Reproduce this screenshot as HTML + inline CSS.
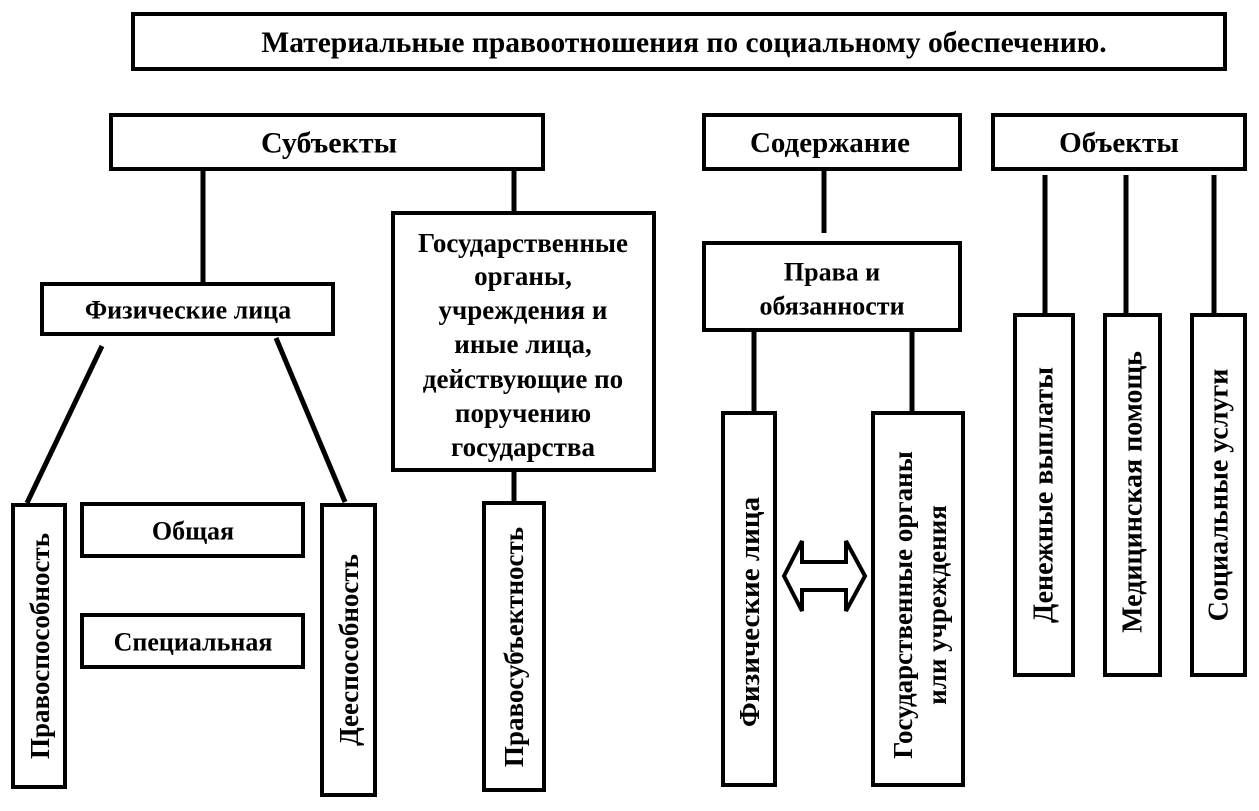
<!DOCTYPE html>
<html><head><meta charset="utf-8"><style>
html,body{margin:0;padding:0;background:#fff;}
svg{display:block}
text{font-family:"Liberation Serif","DejaVu Serif",serif;font-weight:bold;fill:#000;text-anchor:middle;dominant-baseline:central}
</style></head><body>
<svg width="1259" height="811" viewBox="0 0 1259 811" xmlns="http://www.w3.org/2000/svg">
<g fill="#fff" stroke="#000" stroke-width="4">
<rect x="133" y="14" width="1092" height="55"/>
<rect x="111" y="115" width="432" height="54"/>
<rect x="704" y="115" width="256" height="54"/>
<rect x="993" y="115" width="252" height="54"/>
<rect x="42" y="284" width="291" height="50"/>
<rect x="393" y="213" width="261" height="257"/>
<rect x="484" y="503" width="60" height="287"/>
<rect x="13" y="505" width="52" height="282"/>
<rect x="82" y="504" width="221" height="52"/>
<rect x="82" y="615" width="221" height="52"/>
<rect x="322" y="505" width="53" height="290"/>
<rect x="704" y="243" width="256" height="87"/>
<rect x="723" y="413" width="52" height="372"/>
<rect x="873" y="413" width="90" height="372"/>
<rect x="1015" y="315" width="58" height="360"/>
<rect x="1105" y="315" width="55" height="360"/>
<rect x="1192" y="315" width="53" height="360"/>
</g>
<g stroke="#000" stroke-width="5" fill="none">
<line x1="203" y1="169" x2="203" y2="284"/>
<line x1="514" y1="169" x2="514" y2="213"/>
<line x1="514" y1="470" x2="514" y2="503"/>
<line x1="102" y1="346" x2="27" y2="503"/>
<line x1="276" y1="338" x2="345" y2="502"/>
<line x1="824" y1="169" x2="824" y2="233"/>
<line x1="754" y1="330" x2="754" y2="413"/>
<line x1="912" y1="330" x2="912" y2="413"/>
<line x1="1045" y1="175" x2="1045" y2="315"/>
<line x1="1126" y1="175" x2="1126" y2="315"/>
<line x1="1214" y1="175" x2="1214" y2="315"/>
</g>
<polygon points="784,576 802,541 802,562 846,562 846,541 865,576 846,611 846,590 802,590 802,611" fill="#fff" stroke="#000" stroke-width="4"/>
<text x="684" y="43" font-size="29.5">Материальные правоотношения по социальному обеспечению.</text>
<text x="329" y="143" font-size="30">Субъекты</text>
<text x="830" y="143" font-size="29">Содержание</text>
<text x="1119" y="143" font-size="29">Объекты</text>
<text x="188" y="310" font-size="26">Физические лица</text>
<g font-size="27">
<text x="523" y="243">Государственные</text>
<text x="523" y="276">органы,</text>
<text x="523" y="310">учреждения и</text>
<text x="523" y="344">иные лица,</text>
<text x="523" y="379">действующие по</text>
<text x="523" y="413">поручению</text>
<text x="523" y="447">государства</text>
</g>
<text x="832" y="272" font-size="26">Права и</text>
<text x="832" y="306" font-size="26">обязанности</text>
<text x="193" y="531" font-size="26">Общая</text>
<text x="193" y="642" font-size="26">Специальная</text>
<g font-size="27">
<text transform="translate(40,646) rotate(-90)">Правоспособность</text>
<text transform="translate(349,650) rotate(-90)">Дееспособность</text>
<text transform="translate(514,647) rotate(-90)">Правосубъектность</text>
<text transform="translate(750,612) rotate(-90)" font-size="29">Физические лица</text>
<text transform="translate(903,605) rotate(-90)">Государственные органы</text>
<text transform="translate(937,605) rotate(-90)">или учреждения</text>
<text transform="translate(1044,495) rotate(-90)" font-size="28">Денежные выплаты</text>
<text transform="translate(1133,492) rotate(-90)" font-size="28">Медицинская помощь</text>
<text transform="translate(1219,495) rotate(-90)" font-size="28">Социальные услуги</text>
</g>
</svg>
</body></html>
